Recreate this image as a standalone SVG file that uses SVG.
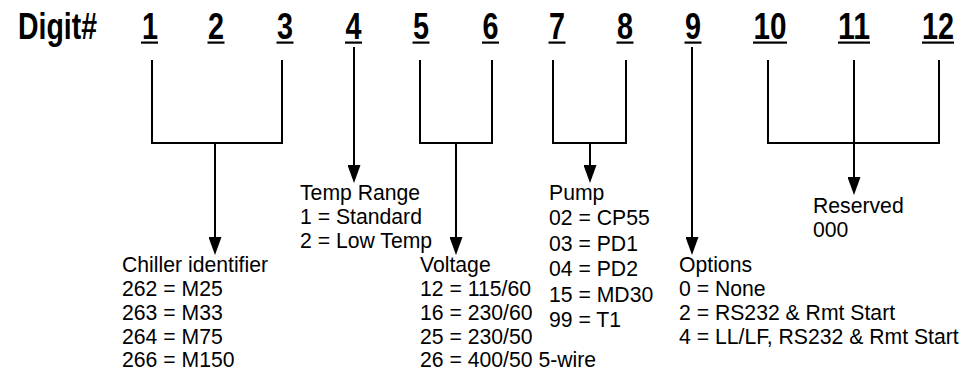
<svg xmlns="http://www.w3.org/2000/svg" width="974" height="381" viewBox="0 0 974 381">
<style>
.hd{font-family:"Liberation Sans",Arial,sans-serif;font-weight:bold;font-size:36px;fill:#000}
.lb{font-family:"Liberation Sans",Arial,sans-serif;font-size:21.2px;fill:#000}
.ln{stroke:#000;stroke-width:2;fill:none}
.ul{fill:#000}
</style>
<defs>
<marker id="ah" markerUnits="userSpaceOnUse" markerWidth="18" markerHeight="13" refX="10" refY="6.5" orient="auto" viewBox="0 0 18 13">
<path d="M0,0 L18,6.5 L0,13 Z" fill="#000"/>
</marker>
</defs>
<g id="header">
<text class="hd" x="18" y="39" textLength="79" lengthAdjust="spacingAndGlyphs">Digit#</text>
</g>
<g id="digits">
<g id="d1"><text class="hd" x="150" y="39" text-anchor="middle" textLength="16" lengthAdjust="spacingAndGlyphs">1</text><rect class="ul" x="141" y="41.5" width="17" height="2.2"/></g>
<g id="d2"><text class="hd" x="216" y="39" text-anchor="middle" textLength="16" lengthAdjust="spacingAndGlyphs">2</text><rect class="ul" x="207.5" y="41.5" width="17" height="2.2"/></g>
<g id="d3"><text class="hd" x="285" y="39" text-anchor="middle" textLength="16" lengthAdjust="spacingAndGlyphs">3</text><rect class="ul" x="276.5" y="41.5" width="17" height="2.2"/></g>
<g id="d4"><text class="hd" x="353.5" y="39" text-anchor="middle" textLength="16" lengthAdjust="spacingAndGlyphs">4</text><rect class="ul" x="345" y="41.5" width="17" height="2.2"/></g>
<g id="d5"><text class="hd" x="421" y="39" text-anchor="middle" textLength="16" lengthAdjust="spacingAndGlyphs">5</text><rect class="ul" x="412.5" y="41.5" width="17" height="2.2"/></g>
<g id="d6"><text class="hd" x="490.5" y="39" text-anchor="middle" textLength="16" lengthAdjust="spacingAndGlyphs">6</text><rect class="ul" x="482" y="41.5" width="17" height="2.2"/></g>
<g id="d7"><text class="hd" x="557" y="39" text-anchor="middle" textLength="16" lengthAdjust="spacingAndGlyphs">7</text><rect class="ul" x="548.5" y="41.5" width="17" height="2.2"/></g>
<g id="d8"><text class="hd" x="625" y="39" text-anchor="middle" textLength="16" lengthAdjust="spacingAndGlyphs">8</text><rect class="ul" x="616.5" y="41.5" width="17" height="2.2"/></g>
<g id="d9"><text class="hd" x="693" y="39" text-anchor="middle" textLength="16" lengthAdjust="spacingAndGlyphs">9</text><rect class="ul" x="684.5" y="41.5" width="17" height="2.2"/></g>
<g id="d10"><text class="hd" x="770" y="39" text-anchor="middle" textLength="33" lengthAdjust="spacingAndGlyphs">10</text><rect class="ul" x="753" y="41.5" width="34" height="2.2"/></g>
<g id="d11"><text class="hd" x="854" y="39" text-anchor="middle" textLength="32" lengthAdjust="spacingAndGlyphs">11</text><rect class="ul" x="838" y="41.5" width="32" height="2.2"/></g>
<g id="d12"><text class="hd" x="938" y="39" text-anchor="middle" textLength="32" lengthAdjust="spacingAndGlyphs">12</text><rect class="ul" x="922" y="41.5" width="32" height="2.2"/></g>
</g>
<g id="connectors">
<path class="ln" d="M152,60 V143 H282 V60"/>
<path class="ln" d="M215,143 V247" marker-end="url(#ah)"/>
<path class="ln" d="M354,47 V175" marker-end="url(#ah)"/>
<path class="ln" d="M420,60 V143 H492 V60"/>
<path class="ln" d="M456,143 V247" marker-end="url(#ah)"/>
<path class="ln" d="M553,60 V143 H626 V60"/>
<path class="ln" d="M590,143 V175" marker-end="url(#ah)"/>
<path class="ln" d="M692,47 V247" marker-end="url(#ah)"/>
<path class="ln" d="M768,60 V143 H939 V60"/>
<path class="ln" d="M854,60 V187" marker-end="url(#ah)"/>
</g>
<g id="chiller">
<text class="lb" x="122" y="272">Chiller identifier</text>
<text class="lb" x="122" y="296">262 = M25</text>
<text class="lb" x="122" y="320">263 = M33</text>
<text class="lb" x="122" y="343.5">264 = M75</text>
<text class="lb" x="122" y="367">266 = M150</text>
</g>
<g id="temp">
<text class="lb" x="300" y="200">Temp Range</text>
<text class="lb" x="300" y="224">1 = Standard</text>
<text class="lb" x="300" y="248">2 = Low Temp</text>
</g>
<g id="voltage">
<text class="lb" x="420" y="272">Voltage</text>
<text class="lb" x="420" y="296">12 = 115/60</text>
<text class="lb" x="420" y="320">16 = 230/60</text>
<text class="lb" x="420" y="343.5">25 = 230/50</text>
<text class="lb" x="420" y="367">26 = 400/50 5-wire</text>
</g>
<g id="pump">
<text class="lb" x="549" y="199.5">Pump</text>
<text class="lb" x="549" y="225">02 = CP55</text>
<text class="lb" x="549" y="250.5">03 = PD1</text>
<text class="lb" x="549" y="276">04 = PD2</text>
<text class="lb" x="549" y="301.5">15 = MD30</text>
<text class="lb" x="549" y="327">99 = T1</text>
</g>
<g id="options">
<text class="lb" x="679" y="272">Options</text>
<text class="lb" x="679" y="296">0 = None</text>
<text class="lb" x="679" y="320">2 = RS232 &amp; Rmt Start</text>
<text class="lb" x="679" y="343.5">4 = LL/LF, RS232 &amp; Rmt Start</text>
</g>
<g id="reserved">
<text class="lb" x="813" y="213">Reserved</text>
<text class="lb" x="813" y="237">000</text>
</g>
</svg>
